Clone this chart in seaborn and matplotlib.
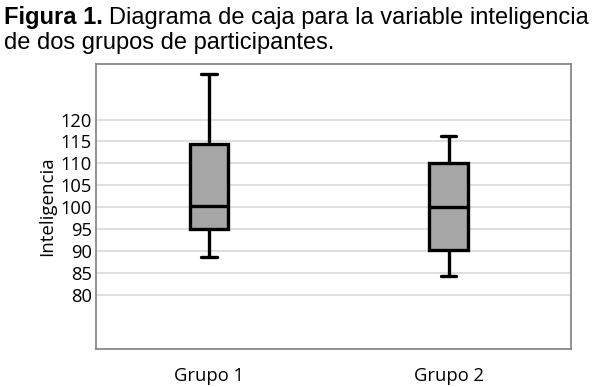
import pandas as pd
import seaborn as sns
import matplotlib.pyplot as plt

# Five-number summaries (min, q1, median, q3, max)
grupos = ["Grupo 1", "Grupo 2"]
grupo1 = [88.6, 95.0, 100.3, 114.5, 130.5]
grupo2 = [84.2, 90.3, 100.0, 110.0, 116.2]
yticks = [80, 85, 90, 95, 100, 105, 110, 115, 120]

df = pd.DataFrame({
    "grupo": [grupos[0]] * len(grupo1) + [grupos[1]] * len(grupo2),
    "Inteligencia": grupo1 + grupo2,
})

sns.set_style("white")
fig = plt.figure(figsize=(5.97, 3.87), dpi=100)
ax = fig.add_axes([96 / 597, 1 - 349 / 387, 475 / 597, 285 / 387])

sns.boxplot(data=df, x="grupo", y="Inteligencia", ax=ax, width=0.16,
            color="#a6a6a6", saturation=1, linewidth=2.4, linecolor="black",
            whis=3, showfliers=False, capwidths=0.065, zorder=3)

ax.set_xlim(-0.47, 1.51)
ax.set_ylim(67.6, 132.7)
ax.set_yticks(yticks)
ax.grid(axis="y", color="#d9d9d9", linewidth=1.2, zorder=0)
ax.set_axisbelow(True)
for s in ax.spines.values():
    s.set_color("#7f7f7f")
    s.set_linewidth(1.2)
ax.tick_params(length=0, labelsize=13.2, colors="black", pad=3)
ax.tick_params(axis="x", pad=13)
for lab in ax.get_xticklabels() + ax.get_yticklabels():
    lab.set_family("Open Sans")
ax.set_xlabel("")
ax.set_ylabel("Inteligencia", fontsize=13.5, family="Open Sans", color="black", labelpad=3)

# Title with a bold lead-in
t1 = fig.text(4 / 597, 1 - 24 / 387, "Figura 1.", fontsize=17, fontweight="bold",
              family="Liberation Sans", color="black")
fig.canvas.draw()
bb = t1.get_window_extent()
fig.text((bb.x1 + 6) / 597, 1 - 24 / 387, "Diagrama de caja para la variable inteligencia",
         fontsize=17, family="Liberation Sans", color="black")
fig.text(4 / 597, 1 - 49 / 387, "de dos grupos de participantes.",
         fontsize=17, family="Liberation Sans", color="black")

plt.savefig("out.png", dpi=100)
plt.close()
